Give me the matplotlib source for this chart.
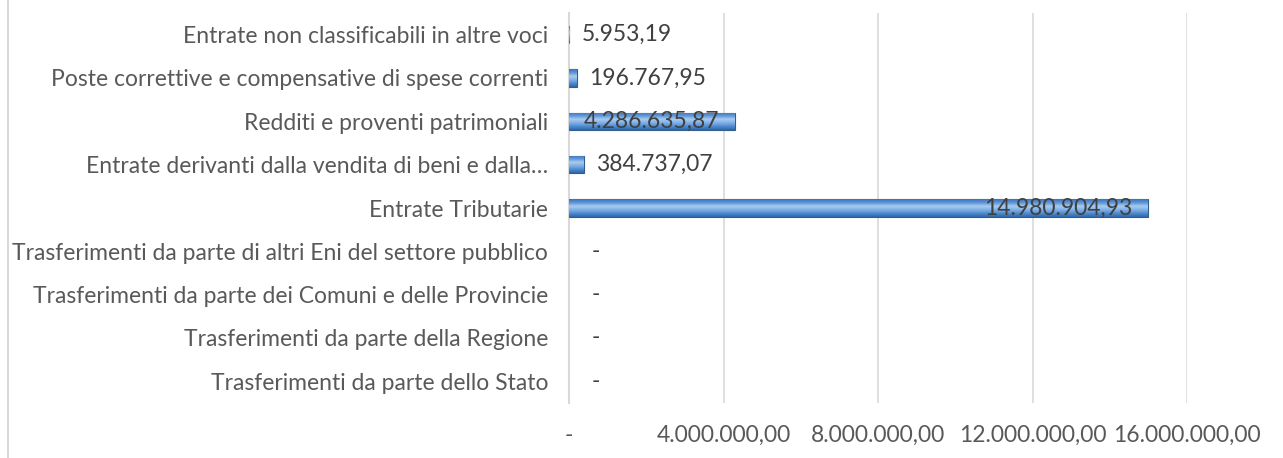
import matplotlib.pyplot as plt
import numpy as np
from matplotlib.colors import LinearSegmentedColormap
from matplotlib.lines import Line2D

# Categories (bottom to top) and amounts
categorie = [
    "Trasferimenti da parte dello Stato",
    "Trasferimenti da parte della Regione",
    "Trasferimenti da parte dei Comuni e delle Provincie",
    "Trasferimenti da parte di altri Eni del settore pubblico",
    "Entrate Tributarie",
    "Entrate derivanti dalla vendita di beni e dalla…",
    "Redditi e proventi patrimoniali",
    "Poste correttive e compensative di spese correnti",
    "Entrate non classificabili in altre voci",
]
importi = [0, 0, 0, 0, 14980904.93, 384737.07, 4286635.87, 196767.95, 5953.19]
x_ticks = [0, 4000000, 8000000, 12000000, 16000000]


def fmt_it(v):
    if v == 0:
        return "-"
    s = f"{v:,.2f}"
    return s.replace(",", "X").replace(".", ",").replace("X", ".")


plt.rcParams['font.family'] = ['Lato', 'DejaVu Sans']
text_col = '#595959'
fs = 16.5

fig = plt.figure(figsize=(12.83, 4.58), dpi=100)
ax = fig.add_axes([569 / 1283, 1 - 403 / 458, (1187 - 569) / 1283, 390 / 458])

y = np.arange(len(categorie))
bars = ax.barh(y, importi, height=0.4, color='#5B9BD5', edgecolor='#2F5F8F',
               linewidth=0.8, zorder=3)

# gradient fill to mimic the bevelled bars
cmap = LinearSegmentedColormap.from_list(
    'bev', ['#2E65A8', '#4F8BD0', '#7FB0E6', '#A9CBF0', '#5F97D8', '#3A73B8'])
grad = np.linspace(0, 1, 64).reshape(-1, 1)
for b in bars:
    if b.get_width() <= 0:
        b.set_linewidth(0)
        continue
    x0, y0, w, h = b.get_x(), b.get_y(), b.get_width(), b.get_height()
    im = ax.imshow(grad, cmap=cmap, aspect='auto', extent=[x0, x0 + w, y0, y0 + h],
                   origin='lower', zorder=3.5)
    im.set_clip_path(b)

# value labels
for yi, v in zip(y, importi):
    if v > 1000000:
        ax.annotate(fmt_it(v), (v, yi), xytext=(-11, 0), textcoords='offset points',
                    ha='right', va='center', fontsize=fs, color='#404040', zorder=5)
    else:
        ax.annotate(fmt_it(v), (v, yi), xytext=(16 if v == 0 else 9, 0),
                    textcoords='offset points', ha='left', va='center',
                    fontsize=fs, color='#404040', zorder=5)

ax.set_xlim(0, 16000000)
ax.set_ylim(-0.5, len(categorie) - 0.5)
ax.set_yticks(y)
ax.set_yticklabels(categorie, fontsize=fs, color=text_col)
ax.set_xticks(x_ticks)
ax.set_xticklabels([fmt_it(t) for t in x_ticks], fontsize=fs, color=text_col)
ax.tick_params(axis='both', length=0)
ax.tick_params(axis='y', pad=15)
ax.tick_params(axis='x', pad=16)
ax.xaxis.grid(True, color='#D9D9D9', linewidth=1.2, zorder=0)
for s in ['top', 'right', 'bottom']:
    ax.spines[s].set_visible(False)
ax.spines['left'].set_color('#D9D9D9')
ax.spines['left'].set_linewidth(1.5)
ax.set_axisbelow(True)

# chart area border (only left edge visible)
fig.add_artist(Line2D([7.5 / 1283, 7.5 / 1283], [0, 1], color='#D9D9D9', linewidth=1.5))

fig.savefig('out.png', dpi=100)
